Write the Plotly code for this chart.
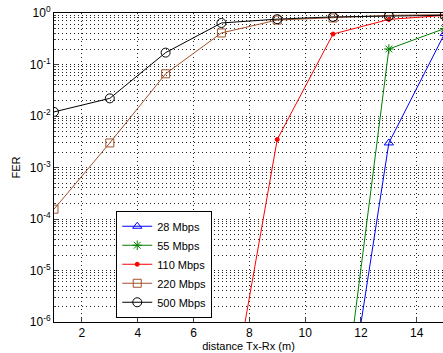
import plotly.graph_objects as go

distance = [1, 3, 5, 7, 9, 11, 13, 15]
series_names = ["28 Mbps", "55 Mbps", "110 Mbps", "220 Mbps", "500 Mbps"]
fer_28 = [1e-12, 1e-12, 1e-12, 1e-12, 1e-11, 3e-10, 3e-3, 0.40]
fer_55 = [1e-12, 1e-12, 1e-12, 1e-12, 1e-11, 6e-10, 0.20, 0.50]
fer_110 = [1e-12, 1e-12, 1e-11, 2.5e-9, 3.5e-3, 0.39, 0.75, 0.90]
fer_220 = [1.55e-4, 3e-3, 0.066, 0.41, 0.73, 0.80, 0.90, 0.93]
fer_500 = [0.012, 0.022, 0.17, 0.64, 0.76, 0.84, 0.87, 0.90]
x_ticks = [2, 4, 6, 8, 10, 12, 14]
y_tickvals = [1e-6, 1e-5, 1e-4, 1e-3, 1e-2, 1e-1, 1]
y_ticktext = ["10<sup>-6</sup>", "10<sup>-5</sup>", "10<sup>-4</sup>", "10<sup>-3</sup>",
              "10<sup>-2</sup>", "10<sup>-1</sup>", "10<sup>0</sup>"]

all_fer = [fer_28, fer_55, fer_110, fer_220, fer_500]
colors = ["#0000ff", "#008000", "#ff0000", "#a0522d", "#000000"]
symbols = ["triangle-up-open", "asterisk-open", "circle", "square-open", "circle-open"]
msizes = [8, 8, 4, 8, 9]

fig = go.Figure()
for name, vals, c, s, ms in zip(series_names, all_fer, colors, symbols, msizes):
    fig.add_trace(go.Scatter(
        x=distance, y=vals, name=name, mode="lines+markers",
        line=dict(color=c, width=1),
        marker=dict(symbol=s, size=ms, color=c, line=dict(color=c, width=1)),
    ))

minor_y = [d * 10 ** k for k in range(-6, 0) for d in range(2, 10)]
dots = "1px,3px"

fig.update_layout(
    width=443, height=353,
    margin=dict(l=54, r=0, t=13, b=31),
    paper_bgcolor="white", plot_bgcolor="white",
    font=dict(family="Liberation Sans, Arial", size=12, color="#000"),
    showlegend=True,
    legend=dict(x=0.16, y=0.36, xanchor="left", yanchor="top",
                bgcolor="white", bordercolor="#000", borderwidth=1,
                font=dict(size=11), tracegroupgap=0, itemwidth=30),
)
fig.update_xaxes(
    range=[1, 14.94], tickvals=x_ticks, ticks="inside", ticklen=4,
    showline=True, linecolor="#000", linewidth=1, mirror=True,
    showgrid=True, gridcolor="#222", griddash=dots, gridwidth=1,
    zeroline=False,
    title=dict(text="distance Tx-Rx (m)", standoff=2, font=dict(size=11)),
)
fig.update_yaxes(
    type="log", range=[-6, 0], tickvals=y_tickvals, ticktext=y_ticktext,
    ticks="inside", ticklen=4,
    showline=True, linecolor="#000", linewidth=1, mirror=True,
    showgrid=True, gridcolor="#222", griddash=dots, gridwidth=1,
    minor=dict(tickvals=minor_y, showgrid=True, gridcolor="#222",
               griddash=dots, gridwidth=1, ticks="inside", ticklen=2),
    zeroline=False,
    title=dict(text="FER", standoff=6, font=dict(size=11)),
)

fig.write_html("out.html")
